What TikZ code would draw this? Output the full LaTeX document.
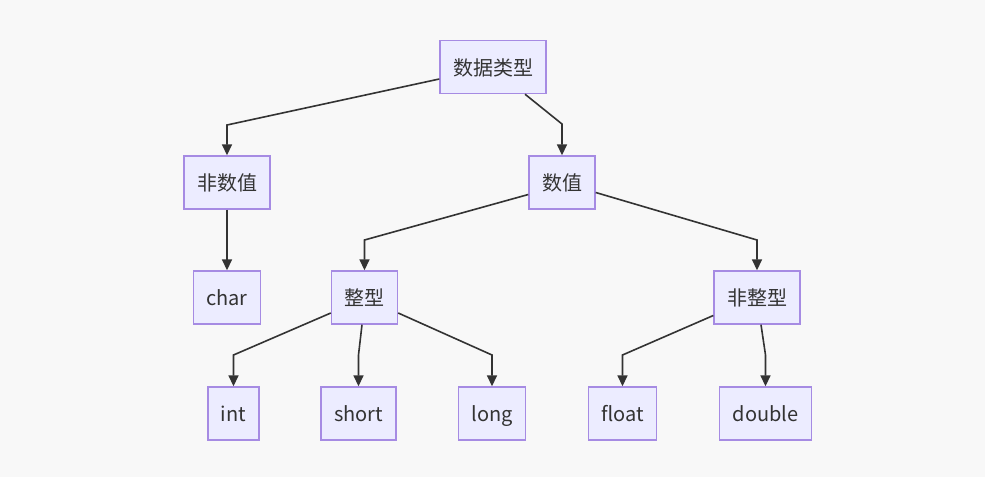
\documentclass[tikz,border=0pt]{standalone}
\usepackage{fontspec}
\setmainfont{Noto Sans CJK SC}
\usepackage{xcolor}
\usetikzlibrary{arrows.meta}
\definecolor{bgcol}{HTML}{F8F8F8}
\definecolor{boxfill}{HTML}{ECECFF}
\definecolor{boxline}{HTML}{A68BE3}
\definecolor{linecol}{HTML}{333333}

\begin{document}
\begin{tikzpicture}[
    x=1pt, y=-1pt,
    box/.style={draw=boxline, line width=1.4pt, fill=boxfill, rectangle, minimum height=53pt, inner xsep=13pt, text height=18pt, text depth=2pt, text=linecol, font=\fontsize{20pt}{24pt}\selectfont},
    edge/.style={line width=1.6pt, draw=linecol, -{Triangle[length=11pt, width=10pt]}}
]
    % Background and margins
    \fill[bgcol] (0,0) rectangle (985,477);
    \useasboundingbox (0,0) rectangle (985,477);

    % Nodes
    \node (root) [box] at (493, 67) {数据类型};
    \node (nonnum) [box] at (227, 182.5) {非数值};
    \node (num) [box] at (562, 182.5) {数值};
    \node (charT) [box] at (227, 297.5) {char};
    \node (integer) [box] at (364.5, 297.5) {整型};
    \node (nonint) [box] at (757, 297.5) {非整型};
    \node (intT) [box] at (233.5, 413.5) {int};
    \node (shortT) [box] at (358.5, 413.5) {short};
    \node (longT) [box] at (492, 413.5) {long};
    \node (floatT) [box] at (622.5, 413.5) {float};
    \node (doubleT) [box] at (765.5, 413.5) {double};

    % Edges
    \draw [edge] ([yshift=-12pt]root.west) -- (nonnum.north |- 0,125) -- (nonnum.north);
    \draw [edge] ([xshift=32pt]root.south) -- (num.north |- 0,124) -- (num.north);
    \draw [edge] (nonnum.south) -- (charT.north);
    \draw [edge] ([yshift=-12pt]num.west) -- (integer.north |- 0,240) -- (integer.north);
    \draw [edge] ([yshift=-10pt]num.east) -- (nonint.north |- 0,240) -- (nonint.north);
    \draw [edge] ([yshift=-15.5pt]integer.west) -- (intT.north |- 0,355) -- (intT.north);
    \draw [edge] ([xshift=-2.5pt]integer.south) -- (shortT.north |- 0,355) -- (shortT.north);
    \draw [edge] ([yshift=-15.5pt]integer.east) -- (longT.north |- 0,355) -- (longT.north);
    \draw [edge] ([yshift=-18pt]nonint.west) -- (floatT.north |- 0,355) -- (floatT.north);
    \draw [edge] ([xshift=4pt]nonint.south) -- (doubleT.north |- 0,355) -- (doubleT.north);
\end{tikzpicture}
\end{document}
